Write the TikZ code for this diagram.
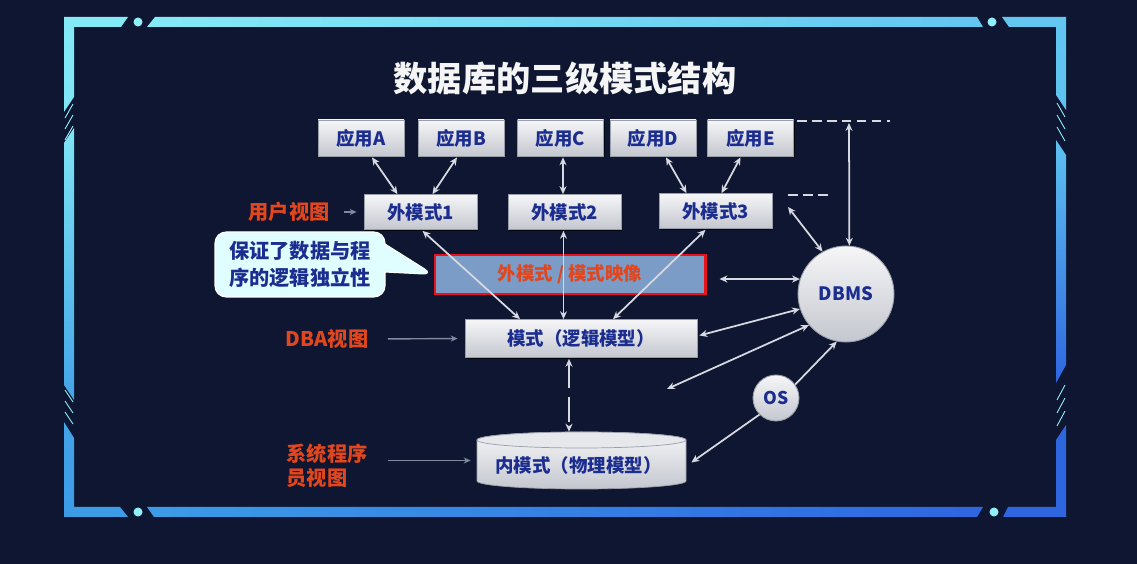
\documentclass[tikz,border=0pt]{standalone}
\usepackage{fontspec}
\setmainfont{Noto Sans CJK SC}
\usetikzlibrary{arrows.meta,calc,shapes.callouts,shadows}

\definecolor{bgnavy}{HTML}{0E1631}
\definecolor{boxblue}{HTML}{1B2D8F}
\definecolor{boxtop}{HTML}{F6F6F8}
\definecolor{boxbot}{HTML}{C4C7CF}
\definecolor{boxedge}{HTML}{9A9EA8}
\definecolor{viewred}{HTML}{E2461C}
\definecolor{viewgray}{HTML}{7F8A9E}
\definecolor{arrowgray}{HTML}{D6D9E0}
\definecolor{mapfill}{HTML}{7C9CC8}
\definecolor{mapred}{HTML}{E8141C}
\definecolor{calloutfill}{HTML}{E0FEFF}
\definecolor{framecyan}{HTML}{84EAF6}
\definecolor{framesky}{HTML}{62C6F1}
\definecolor{framemid}{HTML}{3C9BE6}
\definecolor{frameblue}{HTML}{2E66E0}
\definecolor{framedot}{HTML}{8FF0FA}

\begin{document}
\begin{tikzpicture}[x=0.2mm,y=-0.2mm,
    boxfont/.style={font=\bfseries\fontsize{10.5pt}{12pt}\selectfont, text=boxblue},
    graybox/.style={boxfont, draw=boxedge, line width=0.4pt, top color=boxtop, bottom color=boxbot,
        drop shadow={shadow xshift=0.7pt, shadow yshift=-0.7pt, opacity=0.7, fill=black}},
    appbox/.style={graybox, minimum width=17.2mm, minimum height=7.2mm},
    extbox/.style={graybox, minimum width=22.6mm, minimum height=7mm},
    ballnode/.style={boxfont, circle, draw=boxedge, line width=0.5pt, top color=boxtop, bottom color=boxbot, inner sep=0pt},
    viewlabel/.style={font=\bfseries\fontsize{11.5pt}{14pt}\selectfont, text=viewred, align=left},
    biarrow/.style={draw=arrowgray, line width=1pt, {Stealth[length=4.5pt,width=4pt]}-{Stealth[length=4.5pt,width=4pt]}},
    onearrow/.style={draw=arrowgray, line width=1pt, -{Stealth[length=4.5pt,width=4pt]}},
    viewarrow/.style={draw=viewgray, line width=0.8pt, -{Stealth[length=4pt,width=3.5pt]}},
    dashline/.style={draw=arrowgray, line width=1pt, dash pattern=on 5.5pt off 3pt},
    slash/.style={draw=framedot, line width=0.5pt}
]
    \useasboundingbox (0,0) rectangle (1137,564);
    \fill[bgnavy] (0,0) rectangle (1137,564);

    \shade[top color=framecyan, bottom color=framecyan!85!framesky] (64,17) -- (128,17) -- (121,27) -- (74,27) -- (74,97) -- (64,112) -- cycle;
    \shade[left color=framecyan, right color=framesky] (155,17) -- (977,17) -- (983,27) -- (147,27) -- cycle;
    \shade[top color=framesky, bottom color=framesky!90!framemid] (1002,17) -- (1066,17) -- (1066,110) -- (1056,95) -- (1056,27) -- (1009,27) -- cycle;
    \shade[top color=framesky!90!framemid, bottom color=frameblue] (1056,140) -- (1066,155) -- (1066,365) -- (1056,383) -- cycle;
    \shade[top color=frameblue, bottom color=frameblue] (1066,425) -- (1066,517) -- (1003,517) -- (1008,507) -- (1056,507) -- (1056,440) -- cycle;
    \shade[left color=framemid, right color=frameblue] (147,507) -- (983,507) -- (977,517) -- (154,517) -- cycle;
    \shade[top color=framemid!80!framesky, bottom color=framemid] (64,422) -- (74,438) -- (74,507) -- (120,507) -- (128,517) -- (64,517) -- cycle;
    \shade[top color=framecyan!85!framesky, bottom color=framemid!80!framesky] (74,128) -- (74,400) -- (64,385) -- (64,143) -- cycle;
    \foreach \d in {(138,22),(992,22),(138,512),(994,512)}
        \fill[framedot] \d circle[radius=0.9mm];
    \foreach \s in {104,115,126}
        \draw[slash] (65,\s+14) -- (73,\s);
    \foreach \s in {390,401,412}
        \draw[slash] (65,\s) -- (73,\s+12);
    \foreach \s in {103,115,127}
        \draw[slash] (1057,\s) -- (1065,\s+14);
    \foreach \s in {385,398,411}
        \draw[slash] (1057,\s+15) -- (1065,\s);

    \node[font=\bfseries\fontsize{19.5pt}{22pt}\selectfont, text=white!92!gray] (title) at (565,78) {数据库的三级模式结构};

    \node[appbox] (appA) at (361,138) {应用A};
    \node[appbox] (appB) at (461,138) {应用B};
    \node[appbox] (appC) at (560.5,138) {应用C};
    \node[appbox] (appD) at (653,138) {应用D};
    \node[appbox] (appE) at (750.5,138) {应用E};

    \node[extbox] (ext1) at (420.5,212) {外模式1};
    \node[extbox] (ext2) at (564.5,212) {外模式2};
    \node[extbox] (ext3) at (715.5,211) {外模式3};

    \node[draw=mapred, line width=1.7pt, fill=mapfill, minimum width=54mm, minimum height=7.8mm,
        font=\bfseries\fontsize{10.5pt}{12pt}\selectfont, text=viewred] (mapping) at (570,274.5) {外模式 / 模式映像};

    \node[graybox, minimum width=46.4mm, minimum height=7.6mm] (schema) at (581,338.5) {模式（逻辑模型）};

    \coordinate (cyl) at (581.5,460.5);
    \shade[top color=boxtop, bottom color=boxbot, draw=boxedge, line width=0.4pt]
        ($(cyl)+(-104.5,-20.5)$) -- ($(cyl)+(-104.5,20.5)$) arc[start angle=180, end angle=360, x radius=20.9mm, y radius=1.6mm]
        -- ($(cyl)+(104.5,-20.5)$) arc[start angle=0, end angle=180, x radius=20.9mm, y radius=1.6mm] -- cycle;
    \filldraw[fill=boxtop!70!boxbot, draw=boxedge, line width=0.4pt] ($(cyl)+(0,-20.5)$) ellipse[x radius=20.9mm, y radius=1.6mm];
    \node[minimum width=41.8mm, minimum height=11.4mm, inner sep=0pt] (internal) at (cyl) {};
    \node[boxfont] (internaltext) at ($(cyl)+(-3,5)$) {内模式（物理模型）};

    \node[ballnode, minimum size=19.2mm] (dbms) at (846,294) {DBMS};
    \node[ballnode, minimum size=9.2mm, font=\bfseries\fontsize{10pt}{12pt}\selectfont] (os) at (776,398) {OS};

    \node[rectangle callout, rounded corners=2.2mm, fill=calloutfill, draw=white, line width=0.6pt,
        minimum width=34mm, minimum height=13mm, callout absolute pointer={(mapping.west)}, callout pointer width=5.6mm,
        font=\bfseries\fontsize{11.5pt}{15pt}\selectfont, text=boxblue, align=left] (callout) at (300,264.5) {保证了数据与程\\序的逻辑独立性};

    \node[viewlabel] (userview) at (289,212) {用户视图};
    \node[viewlabel] (dbaview) at (327,339) {DBA视图};
    \node[viewlabel] (sysview) at (327,466) {系统程序\\员视图};

    \draw[viewarrow, shorten <=1.6mm, shorten >=1.4mm] (userview.east) -- (ext1.west);
    \draw[viewarrow, shorten <=2.7mm, shorten >=1.4mm] (dbaview.east) -- (schema.west);
    \draw[viewarrow, shorten <=2.8mm, shorten >=1.2mm] (sysview.east |- internal.west) -- (internal.west);

    \draw[biarrow] ($(appA.south)+(11,1)$) -- ($(ext1.north)+(-23,0)$);
    \draw[biarrow] ($(appB.south)+(-4,1)$) -- ($(ext1.north)+(12,0)$);
    \draw[biarrow] ($(appC.south)+(2.5,1)$) -- ($(appC.south |- ext2.north)+(2.5,0)$);
    \draw[biarrow] ($(appD.south)+(13,1)$) -- ($(ext3.north)+(-29,0)$);
    \draw[biarrow] ($(appE.south)+(-10,1)$) -- ($(ext3.north)+(6,0)$);

    \draw[biarrow] ($(ext1.south)+(2,1)$) -- ($(schema.north)+(-61,0)$);
    \draw[biarrow] ($(ext2.south)+(-1,1)$) -- ($(ext2.south |- schema.north)+(-1,0)$);
    \draw[biarrow] ($(ext3.south)+(-10,1)$) -- ($(schema.north)+(32,0)$);
    \draw[biarrow, dash pattern=on 14pt off 5pt] ($(schema.south)+(-12,1)$) -- ($(internal.north)+(-12.5,0)$);

    \coordinate (dashtopL) at (797,121);
    \coordinate (dashtopR) at (890,121);
    \coordinate (dashmidL) at (788,195);
    \coordinate (dashmidR) at (832,195);
    \coordinate (freeend) at (667,389);
    \draw[dashline] (dashtopL) -- (dashtopR);
    \draw[dashline] (dashmidL) -- (dashmidR);

    \draw[biarrow] ($(dashtopL)+(52,2)$) -- (dbms.86);
    \draw[biarrow] ($(dashmidL)+(0,12)$) -- (dbms.119);
    \draw[biarrow] ($(mapping.east)+(13,4.5)$) -- (dbms.162);
    \draw[biarrow] ($(schema.east)+(2,-3)$) -- (dbms.198);
    \draw[biarrow] (freeend) -- (dbms.220);
    \draw[onearrow] (os.35) -- (dbms.259);
    \draw[onearrow] (os.225) -- ($(internal.east)+(5,2)$);
\end{tikzpicture}
\end{document}
